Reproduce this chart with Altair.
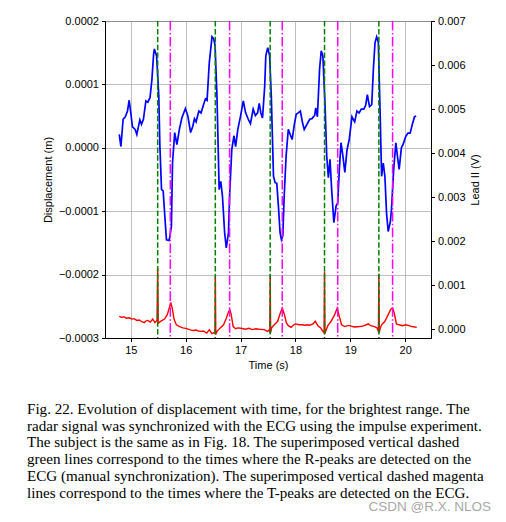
import altair as alt
import pandas as pd

# ---- displacement (radar), time in s, value in 1e-4 m ----
time_disp = [14.79, 14.82, 14.86, 14.90, 14.94, 14.97, 15.00, 15.03, 15.08, 15.11,
             15.165, 15.195, 15.23, 15.275, 15.31, 15.35, 15.385, 15.415, 15.43, 15.47,
             15.51, 15.53, 15.56, 15.59, 15.62, 15.65, 15.70, 15.74, 15.76, 15.80,
             15.84, 15.885, 15.93, 15.995, 16.04, 16.09, 16.13, 16.16, 16.19, 16.24,
             16.28, 16.325, 16.36, 16.39, 16.43, 16.48, 16.51, 16.535, 16.57, 16.61,
             16.64, 16.67, 16.71, 16.74, 16.78, 16.80, 16.84, 16.88, 16.91, 16.95,
             17.00, 17.05, 17.09, 17.14, 17.18, 17.23, 17.27, 17.31, 17.34, 17.37,
             17.40, 17.44, 17.46, 17.495, 17.53, 17.56, 17.60, 17.63, 17.66, 17.69,
             17.72, 17.745, 17.77, 17.795, 17.83, 17.87, 17.905, 17.94, 17.98, 18.015,
             18.05, 18.09, 18.13, 18.16, 18.21, 18.26, 18.30, 18.35, 18.37, 18.40,
             18.44, 18.47, 18.50, 18.54, 18.57, 18.60, 18.63, 18.66, 18.70, 18.74,
             18.77, 18.80, 18.83, 18.865, 18.90, 18.94, 18.98, 19.03, 19.08, 19.12,
             19.16, 19.20, 19.245, 19.28, 19.31, 19.35, 19.39, 19.42, 19.45, 19.48,
             19.51, 19.54, 19.57, 19.60, 19.63, 19.66, 19.69, 19.73, 19.75, 19.79,
             19.83, 19.865, 19.89, 19.93, 19.96, 20.01, 20.05, 20.09, 20.13, 20.17,
             20.20]
disp_e4 = [0.21, 0.02, 0.45, 0.49, 0.58, 0.75, 0.55, 0.33, 0.29, 0.21,
           0.44, 0.37, 0.45, 0.74, 0.72, 0.79, 1.08, 1.47, 1.56, 1.45,
           0.82, 0.03, -0.66, -0.68, -1.08, -1.45, -1.46, -1.24, -0.24, 0.24,
           0.05, 0.29, 0.47, 0.62, 0.50, 0.24, 0.34, 0.46, 0.41, 0.58,
           0.55, 0.68, 0.77, 0.75, 1.34, 1.75, 1.72, 1.62, 0.82, -0.66,
           -0.53, -0.76, -1.34, -1.58, -1.34, -0.76, -0.03, 0.19, 0.02, 0.29,
           0.50, 0.74, 0.56, 0.45, 0.38, 0.61, 0.51, 0.55, 0.70, 0.55,
           0.47, 0.97, 1.45, 1.58, 1.45, 0.82, -0.45, -0.55, -0.56, -0.92,
           -1.34, -1.45, -1.39, -0.76, -0.13, 0.29, 0.21, 0.13, 0.37, 0.53,
           0.55, 0.58, 0.39, 0.29, 0.37, 0.45, 0.46, 0.51, 0.63, 0.49,
           1.24, 1.53, 1.45, 0.66, -0.13, -0.47, -0.18, -0.66, -1.18, -0.92,
           -0.87, -0.34, 0.08, -0.13, -0.39, -0.03, 0.13, 0.49, 0.41, 0.58,
           0.55, 0.61, 0.61, 0.67, 0.84, 0.65, 0.68, 1.24, 1.66, 1.75,
           1.66, 0.66, -0.45, -0.24, -0.45, -1.03, -1.32, -1.16, -0.97, -0.34,
           0.08, -0.18, -0.34, 0.00, 0.05, 0.18, 0.23, 0.23, 0.37, 0.49,
           0.50]

# ---- ECG lead II, time in s, value in mV ----
time_ecg = [14.79, 14.83, 14.88, 14.92, 14.97, 15.02, 15.06, 15.11, 15.155, 15.20,
            15.246, 15.28, 15.31, 15.357, 15.40, 15.44, 15.478, 15.49, 15.50, 15.555,
            15.615, 15.665, 15.71, 15.73, 15.757, 15.79, 15.83, 15.89, 15.95, 16.00,
            16.046, 16.10, 16.14, 16.19, 16.23, 16.28, 16.32, 16.385, 16.43, 16.477,
            16.526, 16.533, 16.54, 16.548, 16.57, 16.63, 16.69, 16.74, 16.785, 16.81,
            16.83, 16.865, 16.91, 16.95, 17.00, 17.05, 17.09, 17.15, 17.215, 17.28,
            17.34, 17.43, 17.49, 17.525, 17.533, 17.54, 17.548, 17.566, 17.615, 17.676,
            17.725, 17.76, 17.80, 17.835, 17.87, 17.92, 17.96, 18.00, 18.07, 18.12,
            18.165, 18.21, 18.26, 18.32, 18.36, 18.41, 18.46, 18.50, 18.522, 18.53,
            18.538, 18.55, 18.59, 18.65, 18.715, 18.76, 18.795, 18.84, 18.90, 18.95,
            18.99, 19.04, 19.08, 19.17, 19.22, 19.27, 19.33, 19.37, 19.44, 19.486,
            19.512, 19.52, 19.528, 19.545, 19.57, 19.63, 19.69, 19.74, 19.77, 19.80,
            19.84, 19.89, 19.95, 20.01, 20.07, 20.12, 20.21]
ecg_mv = [0.29, 0.27, 0.28, 0.25, 0.26, 0.23, 0.24, 0.20, 0.21, 0.17,
          0.15, 0.19, 0.20, 0.16, 0.23, 0.15, 0.20, 1.39, 0.14, 0.19,
          0.23, 0.33, 0.52, 0.61, 0.46, 0.22, 0.10, 0.06, 0.03, 0.02,
          0.00, -0.02, -0.03, -0.02, -0.04, -0.05, -0.04, -0.09, -0.01, -0.10,
          -0.07, -0.10, 1.21, -0.12, -0.05, 0.03, 0.10, 0.25, 0.41, 0.43,
          0.33, 0.06, 0.01, 0.03, 0.02, 0.01, 0.00, 0.02, -0.01, 0.01,
          0.00, -0.01, -0.05, -0.01, -0.08, 1.24, -0.08, 0.03, 0.10, 0.18,
          0.37, 0.48, 0.33, 0.14, 0.08, 0.04, 0.09, 0.12, 0.10, 0.10,
          0.09, 0.10, 0.09, 0.12, 0.18, 0.08, 0.03, -0.05, -0.08, 1.31,
          -0.10, -0.05, 0.08, 0.18, 0.33, 0.48, 0.31, 0.10, 0.06, 0.08,
          0.08, 0.06, 0.05, 0.06, 0.07, 0.09, 0.12, 0.08, 0.06, 0.03,
          -0.05, 1.26, -0.08, 0.02, 0.10, 0.18, 0.33, 0.46, 0.48, 0.37,
          0.12, 0.10, 0.08, 0.10, 0.08, 0.06, 0.04]

r_peaks = [15.49, 16.54, 17.54, 18.53, 19.52]
t_peaks = [15.72, 16.80, 17.76, 18.77, 19.77]

x_ticks = [15, 16, 17, 18, 19, 20]
left_ticks = [-0.0003, -0.0002, -0.0001, 0.0, 0.0001, 0.0002]
right_ticks = [0.0, 0.001, 0.002, 0.003, 0.004, 0.005, 0.006, 0.007]

caption_lines = [
    "Fig. 22.  Evolution of displacement with time, for the brightest range. The",
    "radar signal was synchronized with the ECG using the impulse experiment.",
    "The subject is the same as in Fig. 18. The superimposed vertical dashed",
    "green lines correspond to the times where the R-peaks are detected on the",
    "ECG (manual synchronization). The superimposed vertical dashed magenta",
    "lines correspond to the times where the T-peaks are detected on the ECG.",
]
watermark = "CSDN @R.X. NLOS"

disp_df = pd.DataFrame({"t": time_disp, "d": [v * 1e-4 for v in disp_e4]})
ecg_df = pd.DataFrame({"t": time_ecg, "v": [v * 1e-3 for v in ecg_mv]})
r_df = pd.DataFrame({"t": r_peaks})
t_df = pd.DataFrame({"t": t_peaks})
wm_df = pd.DataFrame({"s": [watermark]})
cap_df = pd.DataFrame({"s": ["\n".join(caption_lines)]})

xscale = alt.Scale(domain=[14.53, 20.47], nice=False, zero=False)
xaxis = alt.Axis(title="Time (s)", values=x_ticks, format="d", grid=True)


def xenc():
    return alt.X("t:Q", scale=xscale, axis=xaxis)


blue = alt.Chart(disp_df).mark_line(color="#0000ff", strokeWidth=1.7).encode(
    x=xenc(),
    y=alt.Y("d:Q", scale=alt.Scale(domain=[-0.0003, 0.0002], nice=False, zero=False),
            axis=alt.Axis(title="Displacement (m)", orient="left", values=left_ticks,
                          format=".4f", grid=True, titlePadding=5)),
)

red = alt.Chart(ecg_df).mark_line(color="#ff0000", strokeWidth=1.4).encode(
    x=xenc(),
    y=alt.Y("v:Q", scale=alt.Scale(domain=[-0.0002, 0.007], nice=False, zero=False),
            axis=alt.Axis(title="Lead II (V)", orient="right", values=right_ticks,
                          format=".3f", grid=False, titleAngle=270,
                          titleBaseline="top", titlePadding=4)),
)

green = alt.Chart(r_df).mark_rule(color="#008000", strokeWidth=1.5,
                                   strokeDash=[5.5, 2.4]).encode(x=xenc())

magenta = alt.Chart(t_df).mark_rule(color="#ff00ff", strokeWidth=1.5,
                                     strokeDash=[9.6, 2.4, 1.5, 2.4]).encode(x=xenc())

caption = alt.Chart(cap_df).mark_text(
    align="left", baseline="top", font="Liberation Serif", fontSize=15.1,
    color="black", lineBreak="\n", lineHeight=16.7,
).encode(text="s:N", x=alt.value(-78), y=alt.value(381))

wm = alt.Chart(wm_df).mark_text(align="right", baseline="middle", font="Liberation Sans",
                                 fontSize=13.5, color="#a8a8a8").encode(
    text="s:N", x=alt.value(386), y=alt.value(486))

chart = alt.layer(blue, red, green, magenta, caption, wm).resolve_scale(
    y="independent"
).properties(
    width=326,
    height=317,
    padding={"left": 97, "top": 13, "right": 67, "bottom": 176},
    autosize=alt.AutoSizeParams(type="none"),
).configure_view(
    stroke="black", strokeWidth=1
).configure_axis(
    labelFont="Liberation Sans", labelFontSize=11, labelColor="black",
    titleFont="Liberation Sans", titleFontSize=11, titleFontWeight="normal",
    titleColor="black", tickColor="black", domainColor="black", tickSize=3.5,
    labelPadding=3, gridColor="#b0b0b0", gridWidth=0.8,
)

chart.save("out.html", embed_options={"renderer": "svg", "actions": False})
